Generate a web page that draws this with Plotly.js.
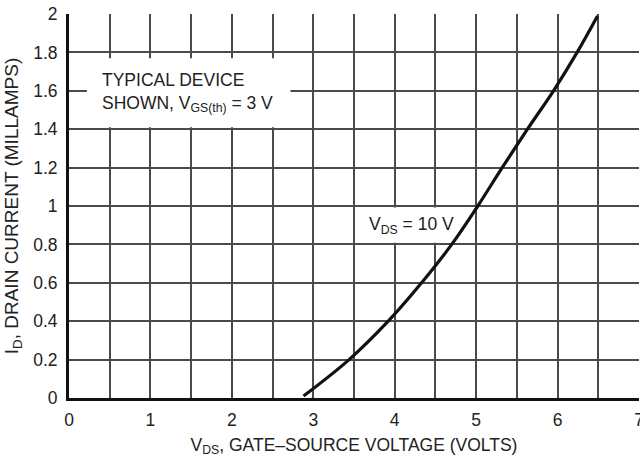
<!DOCTYPE html>
<html>
<head>
<meta charset="utf-8">
<script src="https://cdn.plot.ly/plotly-3.0.1.min.js"></script>
<style>html,body{margin:0;padding:0;background:#fff;}#chart{width:640px;height:462px;}</style>
</head>
<body>
<div id="chart"></div>
<script>
// Data
var vgs    = [2.88, 3.44, 3.92, 4.33, 4.70, 5.02, 5.32, 5.63, 5.95, 6.24, 6.49];
var idrain = [0.01, 0.20, 0.40, 0.60, 0.80, 1.00, 1.20, 1.40, 1.60, 1.80, 1.99];
var xTickVals = [0, 0.5, 1, 1.5, 2, 2.5, 3, 3.5, 4, 4.5, 5, 5.5, 6, 6.5, 7];
var xTickText = ['0', '', '1', '', '2', '', '3', '', '4', '', '5', '', '6', '', '7'];
var yTickVals = [0, 0.2, 0.4, 0.6, 0.8, 1, 1.2, 1.4, 1.6, 1.8, 2];
var yTickText = ['0', '0.2', '0.4', '0.6', '0.8', '1', '1.2', '1.4', '1.6', '1.8', '2'];
var curveLabel = 'V<sub>DS</sub> = 10 V';
var noteText = 'TYPICAL DEVICE<br>SHOWN, V<sub>GS(th)</sub> = 3 V';
var xTitle = 'V<sub>DS</sub>, GATE\u2013SOURCE VOLTAGE (VOLTS)';
var yTitle = 'I<sub>D</sub>, DRAIN CURRENT (MILLAMPS)';

var FONT = '"Liberation Sans", Arial, Helvetica, sans-serif';
var TXT = '#222';

var trace = {
  x: vgs, y: idrain, type: 'scatter', mode: 'lines',
  line: {color: '#111', width: 3.2, shape: 'spline', smoothing: 1},
  hoverinfo: 'skip', showlegend: false
};

var layout = {
  width: 640, height: 462,
  margin: {l: 69, r: 1, t: 14, b: 64},
  paper_bgcolor: '#fff', plot_bgcolor: '#fff',
  font: {family: FONT, size: 17, color: TXT},
  showlegend: false,
  xaxis: {
    range: [0, 7], tickvals: xTickVals, ticktext: xTickText, ticks: '',
    ticklabelstandoff: 4, ticklabeloverflow: 'allow',
    showgrid: true, gridcolor: '#4a4a4a', gridwidth: 2,
    showline: true, linecolor: '#111', linewidth: 3, zeroline: false,
    tickfont: {family: FONT, size: 17.5, color: TXT},
    title: {text: xTitle, font: {family: FONT, size: 17.5, color: TXT}, standoff: 10}
  },
  yaxis: {
    range: [0, 2], tickvals: yTickVals, ticktext: yTickText, ticks: '', ticklabelstandoff: 5,
    showgrid: true, gridcolor: '#4a4a4a', gridwidth: 2,
    showline: true, linecolor: '#111', linewidth: 3, zeroline: false,
    tickfont: {family: FONT, size: 17.5, color: TXT},
    title: {text: yTitle, font: {family: FONT, size: 19, color: TXT}, standoff: 10}
  },
  shapes: [
    {type: 'rect', xref: 'x', yref: 'y', x0: 0.22, x1: 2.72, y0: 1.41, y1: 1.77,
     fillcolor: '#fff', line: {width: 0}, layer: 'between'},
    {type: 'rect', xref: 'x', yref: 'y', x0: 3.52, x1: 4.95, y0: 0.808, y1: 0.992,
     fillcolor: '#fff', line: {width: 0}, layer: 'between'}
  ],
  annotations: [
    {x: 0.38, y: 1.59, xref: 'x', yref: 'y', xanchor: 'left', yanchor: 'middle',
     text: noteText, align: 'left', showarrow: false,
     font: {family: FONT, size: 17.5, color: TXT}},
    {x: 4.2, y: 0.9, xref: 'x', yref: 'y', xanchor: 'center', yanchor: 'middle',
     text: curveLabel, showarrow: false,
     font: {family: FONT, size: 17.5, color: TXT}}
  ]
};

Plotly.newPlot('chart', [trace], layout, {displayModeBar: false, responsive: false});
</script>
</body>
</html>
